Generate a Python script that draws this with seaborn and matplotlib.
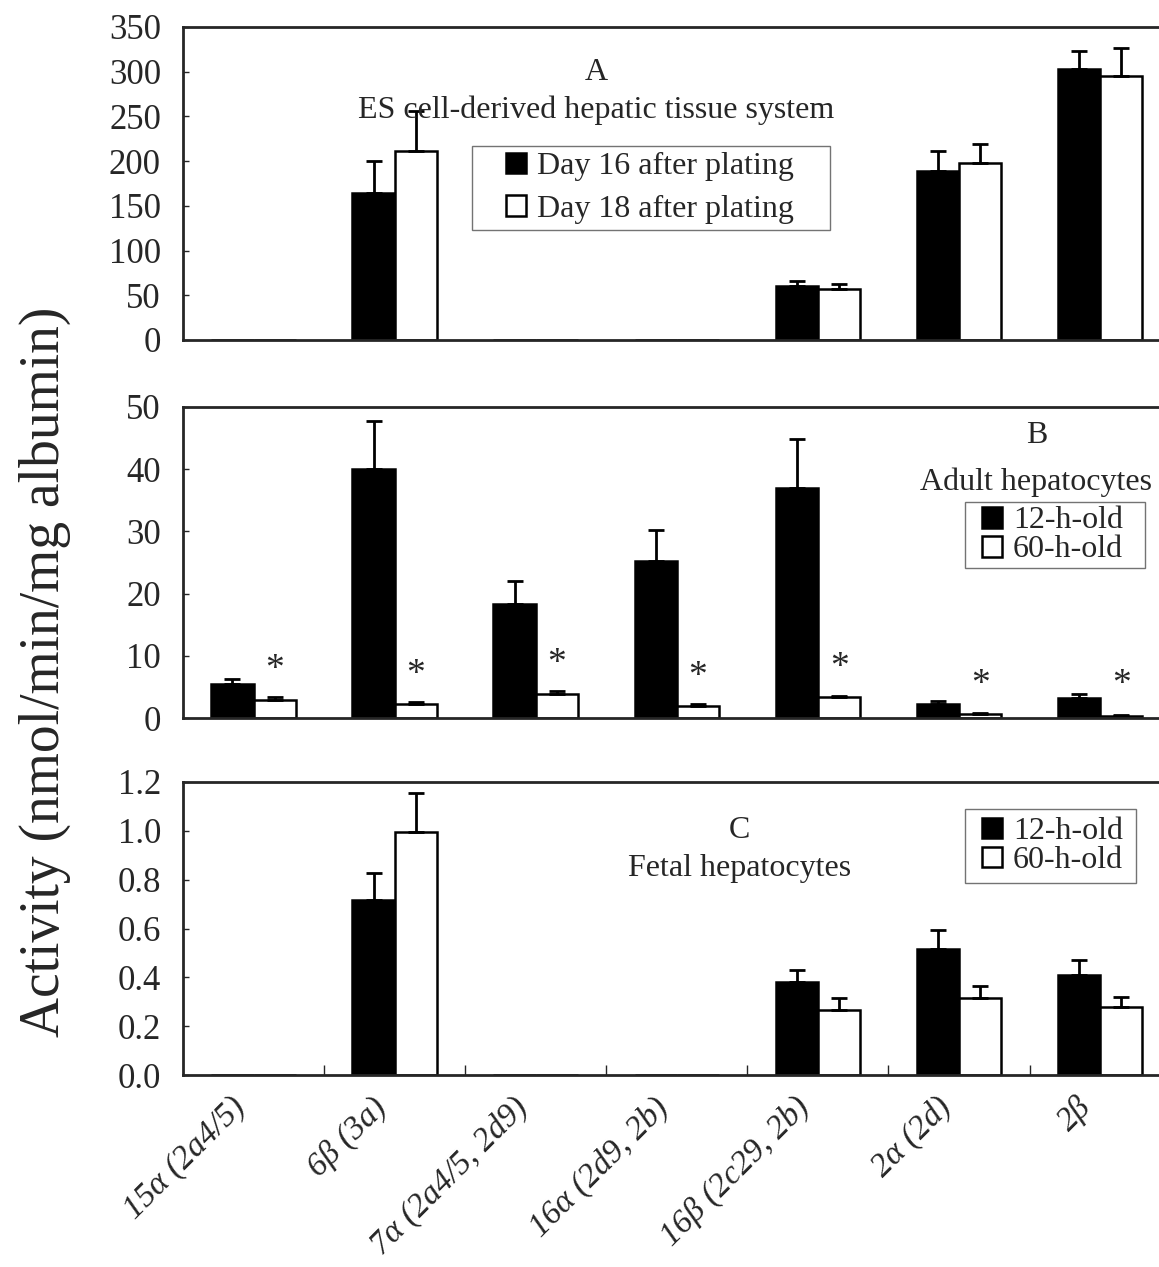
import numpy as np
import pandas as pd
import seaborn as sns
import matplotlib.pyplot as plt
from matplotlib.patches import Rectangle
from matplotlib.ticker import FixedLocator
from matplotlib.transforms import ScaledTranslation

# categories on the x axis
cats = ['15α (2a4/5)', '6β (3a)', '7α (2a4/5, 2d9)', '16α (2d9, 2b)',
        '16β (2c29, 2b)', '2α (2d)', '2β']

# Panel A - ES cell-derived hepatic tissue system
a_day16 = [0, 164, 0, 0, 60, 189, 303]
a_day16_sd = [0, 36, 0, 0, 6, 22, 20]
a_day18 = [0, 211, 0, 0, 57, 198, 295]
a_day18_sd = [0, 45, 0, 0, 5, 21, 31]

# Panel B - adult hepatocytes
b_12h = [5.5, 40.0, 18.4, 25.2, 37.0, 2.3, 3.2]
b_12h_sd = [0.8, 7.8, 3.6, 5.0, 7.8, 0.5, 0.7]
b_60h = [2.9, 2.2, 3.9, 1.9, 3.4, 0.6, 0.4]
b_60h_sd = [0.5, 0.4, 0.4, 0.3, 0.2, 0.2, 0.1]
b_star_y = [9.0, 8.2, 10.0, 7.9, 9.3, 6.6, 6.6]

# Panel C - fetal hepatocytes
c_12h = [0, 0.717, 0, 0, 0.38, 0.515, 0.41]
c_12h_sd = [0, 0.11, 0, 0, 0.05, 0.08, 0.06]
c_60h = [0, 0.995, 0, 0, 0.268, 0.315, 0.279]
c_60h_sd = [0, 0.16, 0, 0, 0.048, 0.05, 0.041]

sns.set_style('ticks')
plt.rcParams['font.family'] = ['Liberation Serif', 'DejaVu Serif']
plt.rcParams['axes.linewidth'] = 2

FS = 23

fig = plt.figure(figsize=(11.59, 12.67), dpi=100)

L, W = 0.158, 0.852
axA = fig.add_axes([L, 0.7317, W, 0.247])
axB = fig.add_axes([L, 0.4333, W, 0.2455])
axC = fig.add_axes([L, 0.1515, W, 0.2313])


def panel(ax, v1, s1, v2, s2, names, ylim, yticks, yfmt):
    df = pd.DataFrame({'cat': cats * 2,
                       'val': v1 + v2,
                       'grp': [names[0]] * len(cats) + [names[1]] * len(cats)})
    sns.barplot(data=df, x='cat', y='val', hue='grp', hue_order=names,
                palette=['black', 'white'], edgecolor='black', linewidth=1.8,
                width=0.6, errorbar=None, ax=ax)
    for cont, sds in zip(ax.containers, [s1, s2]):
        for bar, sd in zip(cont, sds):
            if sd > 0:
                ax.errorbar(bar.get_x() + bar.get_width() / 2, bar.get_height(),
                            yerr=[[0], [sd]], fmt='none', ecolor='black',
                            elinewidth=2, capsize=6, capthick=2)
    ax.set_xlim(-0.5, len(cats) - 0.5)
    ax.set_ylim(*ylim)
    ax.set_yticks(yticks)
    ax.set_yticklabels([yfmt.format(t) for t in yticks])
    ax.tick_params(axis='y', direction='in', length=4, width=1, labelsize=25, pad=16)
    ax.tick_params(axis='x', which='major', length=0)
    ax.set_xlabel('')
    ax.set_ylabel('')
    ax.spines['right'].set_visible(False)
    return ax


panel(axA, a_day16, a_day16_sd, a_day18, a_day18_sd,
      ['Day 16 after plating', 'Day 18 after plating'],
      (0, 350), list(range(0, 351, 50)), '{:d}')
panel(axB, b_12h, b_12h_sd, b_60h, b_60h_sd, ['12-h-old', '60-h-old'],
      (0, 50), list(range(0, 51, 10)), '{:d}')
panel(axC, c_12h, c_12h_sd, c_60h, c_60h_sd, ['12-h-old', '60-h-old'],
      (0, 1.2), [0, 0.2, 0.4, 0.6, 0.8, 1.0, 1.2], '{:.1f}')

for ax in (axA, axB):
    ax.set_xticklabels([])

axC.set_xticks(range(len(cats)))
axC.set_xticklabels(cats, rotation=45, ha='right', rotation_mode='anchor',
                    style='italic', fontsize=24)
axC.tick_params(axis='x', which='major', pad=12)
axC.xaxis.set_minor_locator(FixedLocator(np.arange(0.5, len(cats) - 0.5, 1)))
axC.tick_params(axis='x', which='minor', direction='in', length=7, width=1)

# asterisks above 60-h-old bars in panel B
for bar, sy in zip(axB.containers[1], b_star_y):
    axB.annotate('*', (bar.get_x() + bar.get_width() / 2, sy), xytext=(0, -8),
                 textcoords='offset pixels', ha='center', va='center', fontsize=27)

legkw = dict(frameon=False, fontsize=FS, handlelength=0.62, handleheight=0.62,
             handletextpad=0.35, borderaxespad=0, borderpad=0)

legends = []
h, l = axA.get_legend_handles_labels()
legA = axA.legend(h, l, loc='upper left', bbox_to_anchor=(0.327, 0.60),
                  labelspacing=0.43, **legkw)
legends.append((axA, legA, 34, 36, 6))
axA.text(0.418, 0.856, 'A', transform=axA.transAxes, ha='center', va='center', fontsize=FS)
axA.text(0.418, 0.735, 'ES cell-derived hepatic tissue system', transform=axA.transAxes,
         ha='center', va='center', fontsize=FS)

h, l = axB.get_legend_handles_labels()
legB = axB.legend(h, l, loc='upper left', bbox_to_anchor=(0.809, 0.68),
                  labelspacing=0.0, **legkw)
legends.append((axB, legB, 17, 22, 4))
axB.text(0.864, 0.907, 'B', transform=axB.transAxes, ha='center', va='center', fontsize=FS)
axB.text(0.864, 0.757, 'Adult hepatocytes', transform=axB.transAxes,
         ha='center', va='center', fontsize=FS)

h, l = axC.get_legend_handles_labels()
legC = axC.legend(h, l, loc='upper left', bbox_to_anchor=(0.809, 0.88),
                  labelspacing=0.0, **legkw)
legends.append((axC, legC, 17, 13, 8))
axC.text(0.563, 0.836, 'C', transform=axC.transAxes, ha='center', va='center', fontsize=FS)
axC.text(0.563, 0.706, 'Fetal hepatocytes', transform=axC.transAxes,
         ha='center', va='center', fontsize=FS)

fig.text(45 / 1159, 1 - 672 / 1267, 'Activity (nmol/min/mg albumin)', rotation=90,
         ha='center', va='center', fontsize=40)

# square legend frames with more room at the sides than at top/bottom
fig.canvas.draw()
inv = fig.transFigure.inverted()
for ax, leg, padl, padr, pady in legends:
    bb = leg.get_window_extent()
    (x0, y0), (x1, y1) = inv.transform([(bb.x0 - padl, bb.y0 - pady),
                                        (bb.x1 + padr, bb.y1 + pady)])
    fig.patches.append(Rectangle((x0, y0), x1 - x0, y1 - y0, transform=fig.transFigure,
                                 fill=False, edgecolor='0.45', linewidth=1))

# nudge the slanted category labels a little to the left of their ticks
shift = ScaledTranslation(-24 / fig.dpi, 0, fig.dpi_scale_trans)
for lbl in axC.get_xticklabels():
    lbl.set_transform(lbl.get_transform() + shift)

fig.savefig('out.png', dpi=100)
